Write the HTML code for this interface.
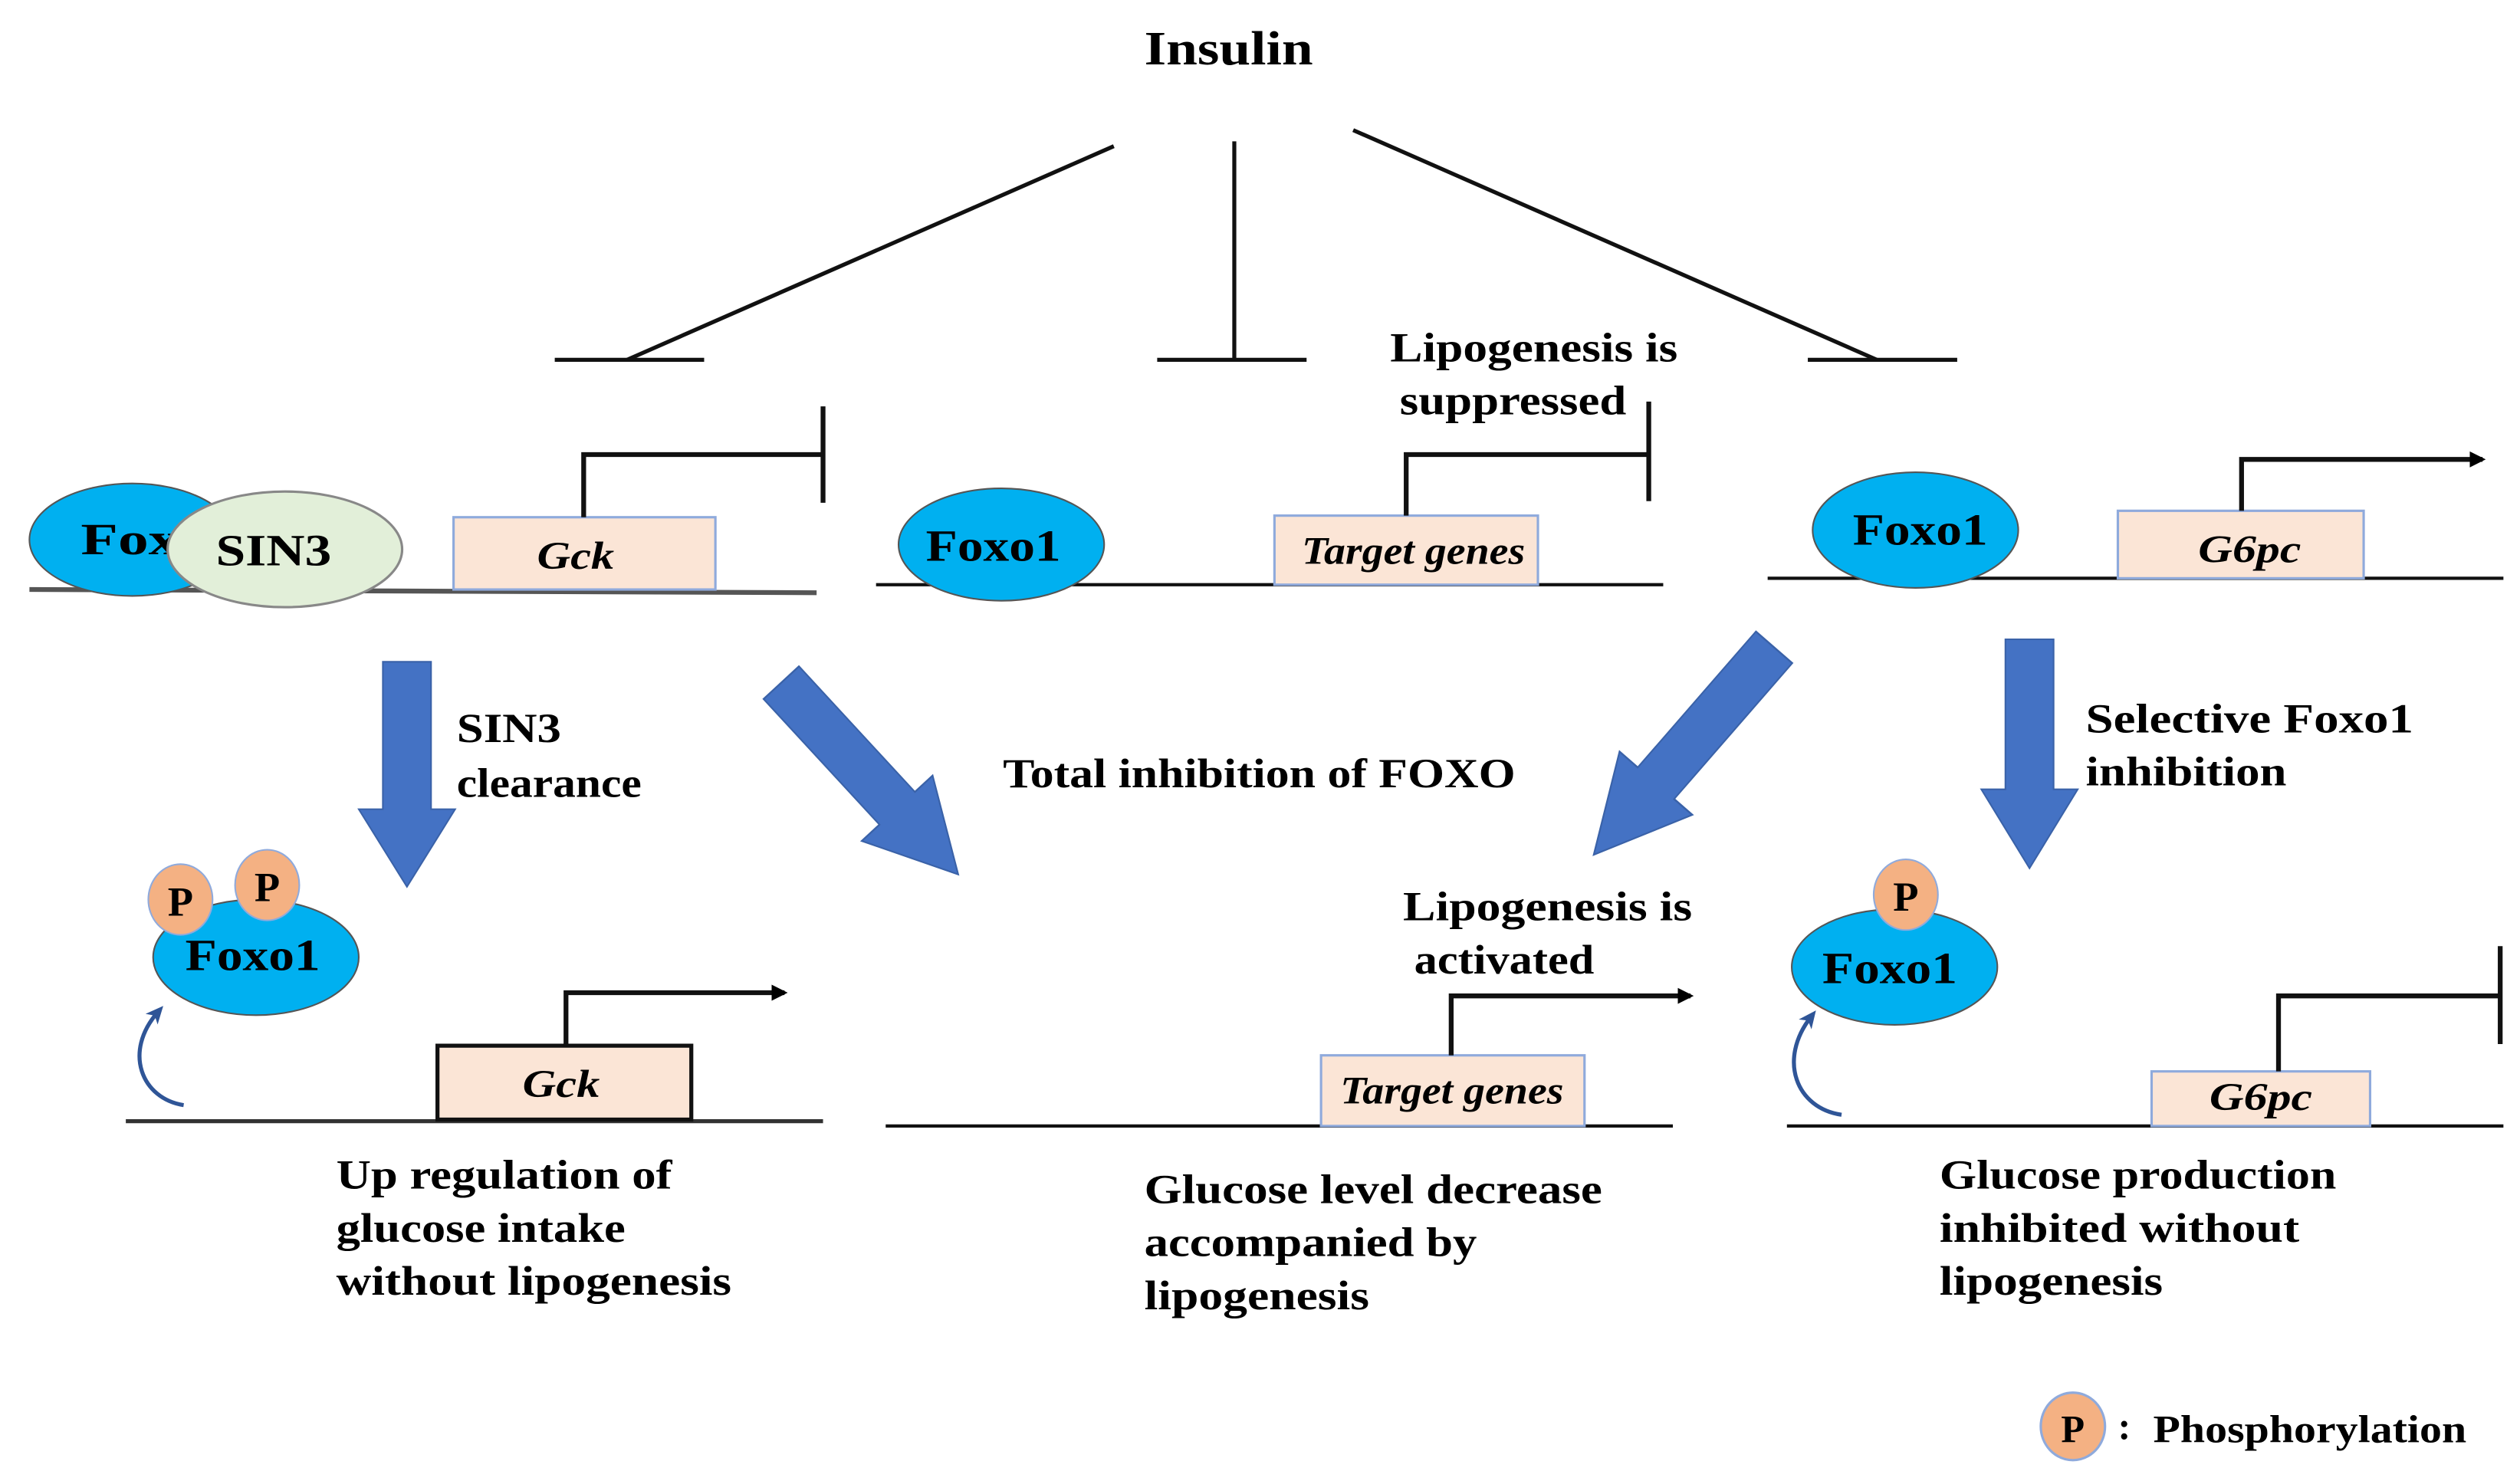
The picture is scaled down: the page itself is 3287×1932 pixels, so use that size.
<!DOCTYPE html>
<html><head><meta charset="utf-8"><style>html,body{margin:0;padding:0;background:#fff}svg{display:block}</style></head>
<body>
<svg width="3287" height="1932" viewBox="0 0 1568 922" xmlns="http://www.w3.org/2000/svg" font-family="Liberation Serif, serif" font-weight="bold">
<defs>
<marker id="ah" markerWidth="10" markerHeight="10" refX="8" refY="5" orient="auto" markerUnits="userSpaceOnUse"><path d="M0,0 L10,5 L0,10 Z" fill="#000"/></marker>
<marker id="bh" markerWidth="12" markerHeight="12" refX="6" refY="6" orient="auto" markerUnits="userSpaceOnUse"><path d="M0,1 L11,6 L0,11 L3,6 Z" fill="#2f5597"/></marker>
<path id="barrow" d="M0,-15 L95,-15 L95,-30 L145,0 L95,30 L95,15 L0,15 Z" fill="#4472c4" stroke="#3a62a8" stroke-width="1"/>
</defs>
<text x="712" y="40" font-size="30" textLength="105" lengthAdjust="spacingAndGlyphs">Insulin</text>
<g stroke="#111" stroke-width="2.5" fill="none">
<line x1="693" y1="91" x2="390" y2="224"/><line x1="345" y1="224" x2="438" y2="224"/>
<line x1="768" y1="88" x2="768" y2="224"/><line x1="720" y1="224" x2="813" y2="224"/>
<line x1="842" y1="81" x2="1168" y2="224"/><line x1="1125" y1="224" x2="1218" y2="224"/>
</g>
<!-- left top -->
<line x1="18" y1="367" x2="508" y2="369" stroke="#555" stroke-width="3"/>
<rect x="282" y="322" width="163" height="45" fill="#fbe5d6" stroke="#8faadc" stroke-width="1.5"/>
<text x="334" y="354" font-size="24" font-style="italic" textLength="48" lengthAdjust="spacingAndGlyphs">Gck</text>
<ellipse cx="82" cy="336" rx="64" ry="35" fill="#00b0f0" stroke="#555" stroke-width="1"/>
<text x="50" y="345" font-size="28" textLength="80" lengthAdjust="spacingAndGlyphs">Foxo</text>
<ellipse cx="177" cy="342" rx="73" ry="36" fill="#e2efd9" stroke="#888" stroke-width="1.5"/>
<text x="134" y="352" font-size="28" textLength="72" lengthAdjust="spacingAndGlyphs">SIN3</text>
<polyline points="363,322 363,283 512,283" fill="none" stroke="#111" stroke-width="3"/>
<line x1="512" y1="253" x2="512" y2="313" stroke="#111" stroke-width="3"/>
<!-- middle top -->
<line x1="545" y1="364" x2="1035" y2="364" stroke="#111" stroke-width="2"/>
<ellipse cx="623" cy="339" rx="64" ry="35" fill="#00b0f0" stroke="#555" stroke-width="1"/>
<text x="576" y="349" font-size="28" textLength="84" lengthAdjust="spacingAndGlyphs">Foxo1</text>
<rect x="793" y="321" width="164" height="43" fill="#fbe5d6" stroke="#8faadc" stroke-width="1.5"/>
<text x="810" y="351" font-size="24" font-style="italic" textLength="139" lengthAdjust="spacingAndGlyphs">Target genes</text>
<polyline points="875,321 875,283 1026,283" fill="none" stroke="#111" stroke-width="3"/>
<line x1="1026" y1="250" x2="1026" y2="312" stroke="#111" stroke-width="3"/>
<text x="865" y="225" font-size="26" textLength="179" lengthAdjust="spacingAndGlyphs">Lipogenesis  is</text>
<text x="871" y="258" font-size="26" textLength="141" lengthAdjust="spacingAndGlyphs">suppressed</text>
<!-- right top -->
<line x1="1100" y1="360" x2="1558" y2="360" stroke="#111" stroke-width="2"/>
<ellipse cx="1192" cy="330" rx="64" ry="36" fill="#00b0f0" stroke="#555" stroke-width="1"/>
<text x="1153" y="339" font-size="28" textLength="84" lengthAdjust="spacingAndGlyphs">Foxo1</text>
<rect x="1318" y="318" width="153" height="42" fill="#fbe5d6" stroke="#8faadc" stroke-width="1.5"/>
<text x="1368" y="350" font-size="24" font-style="italic" textLength="64" lengthAdjust="spacingAndGlyphs">G6pc</text>
<polyline points="1395,318 1395,286 1545,286" fill="none" stroke="#111" stroke-width="3" marker-end="url(#ah)"/>
<!-- blue arrows -->
<g transform="translate(253,412) rotate(90) scale(0.966,1)"><use href="#barrow"/></g>
<g transform="translate(1263,398) rotate(90) scale(0.983,1)"><use href="#barrow"/></g>
<g transform="translate(486,425) rotate(47.3) scale(1.12,1)"><use href="#barrow"/></g>
<g transform="translate(1104,403) rotate(131) scale(1.18,1)"><use href="#barrow"/></g>
<text x="284" y="462" font-size="26" textLength="65" lengthAdjust="spacingAndGlyphs">SIN3</text>
<text x="284" y="496" font-size="26" textLength="115" lengthAdjust="spacingAndGlyphs">clearance</text>
<text x="624" y="490" font-size="26" textLength="319" lengthAdjust="spacingAndGlyphs">Total inhibition  of FOXO</text>
<text x="1298" y="456" font-size="26" textLength="204" lengthAdjust="spacingAndGlyphs">Selective  Foxo1</text>
<text x="1298" y="489" font-size="26" textLength="125" lengthAdjust="spacingAndGlyphs">inhibition</text>
<!-- left bottom -->
<line x1="78" y1="698" x2="512" y2="698" stroke="#333" stroke-width="2.5"/>
<ellipse cx="159" cy="596" rx="64" ry="36" fill="#00b0f0" stroke="#555" stroke-width="1"/>
<text x="115" y="604" font-size="28" textLength="84" lengthAdjust="spacingAndGlyphs">Foxo1</text>
<ellipse cx="112" cy="560" rx="20" ry="22" fill="#f4b183" stroke="#8faadc" stroke-width="1"/>
<text x="112" y="570" font-size="26" text-anchor="middle">P</text>
<ellipse cx="166" cy="551" rx="20" ry="22" fill="#f4b183" stroke="#8faadc" stroke-width="1"/>
<text x="166" y="561" font-size="26" text-anchor="middle">P</text>
<path d="M114,688 C88,684 76,655 98,630" fill="none" stroke="#2f5597" stroke-width="2.5" marker-end="url(#bh)"/>
<rect x="272" y="651" width="158" height="46" fill="#fbe5d6" stroke="#111" stroke-width="2.5"/>
<text x="325" y="683" font-size="24" font-style="italic" textLength="48" lengthAdjust="spacingAndGlyphs">Gck</text>
<polyline points="352,651 352,618 488,618" fill="none" stroke="#111" stroke-width="3" marker-end="url(#ah)"/>
<text x="209" y="740" font-size="26" textLength="209" lengthAdjust="spacingAndGlyphs">Up regulation  of</text>
<text x="209" y="773" font-size="26" textLength="180" lengthAdjust="spacingAndGlyphs">glucose intake</text>
<text x="209" y="806" font-size="26" textLength="246" lengthAdjust="spacingAndGlyphs">without lipogenesis</text>
<!-- middle bottom -->
<line x1="551" y1="701" x2="1041" y2="701" stroke="#111" stroke-width="2"/>
<rect x="822" y="657" width="164" height="44" fill="#fbe5d6" stroke="#8faadc" stroke-width="1.5"/>
<text x="834" y="687" font-size="24" font-style="italic" textLength="139" lengthAdjust="spacingAndGlyphs">Target genes</text>
<polyline points="903,657 903,620 1052,620" fill="none" stroke="#111" stroke-width="3" marker-end="url(#ah)"/>
<text x="873" y="573" font-size="26" textLength="180" lengthAdjust="spacingAndGlyphs">Lipogenesis  is</text>
<text x="880" y="606" font-size="26" textLength="112" lengthAdjust="spacingAndGlyphs">activated</text>
<text x="712" y="749" font-size="26" textLength="285" lengthAdjust="spacingAndGlyphs">Glucose level  decrease</text>
<text x="712" y="782" font-size="26" textLength="207" lengthAdjust="spacingAndGlyphs">accompanied by</text>
<text x="712" y="815" font-size="26" textLength="140" lengthAdjust="spacingAndGlyphs">lipogenesis</text>
<!-- right bottom -->
<line x1="1112" y1="701" x2="1558" y2="701" stroke="#111" stroke-width="2"/>
<ellipse cx="1179" cy="602" rx="64" ry="36" fill="#00b0f0" stroke="#555" stroke-width="1"/>
<text x="1134" y="612" font-size="28" textLength="84" lengthAdjust="spacingAndGlyphs">Foxo1</text>
<ellipse cx="1186" cy="557" rx="20" ry="22" fill="#f4b183" stroke="#8faadc" stroke-width="1"/>
<text x="1186" y="567" font-size="26" text-anchor="middle">P</text>
<path d="M1146,694 C1118,690 1106,660 1127,633" fill="none" stroke="#2f5597" stroke-width="2.5" marker-end="url(#bh)"/>
<rect x="1339" y="667" width="136" height="34" fill="#fbe5d6" stroke="#8faadc" stroke-width="1.5"/>
<text x="1375" y="691" font-size="24" font-style="italic" textLength="64" lengthAdjust="spacingAndGlyphs">G6pc</text>
<polyline points="1418,667 1418,620 1556,620" fill="none" stroke="#111" stroke-width="3"/>
<line x1="1556" y1="589" x2="1556" y2="650" stroke="#111" stroke-width="3"/>
<text x="1207" y="740" font-size="26" textLength="247" lengthAdjust="spacingAndGlyphs">Glucose production</text>
<text x="1207" y="773" font-size="26" textLength="224" lengthAdjust="spacingAndGlyphs">inhibited  without</text>
<text x="1207" y="806" font-size="26" textLength="139" lengthAdjust="spacingAndGlyphs">lipogenesis</text>
<!-- legend -->
<ellipse cx="1290" cy="888" rx="20" ry="21" fill="#f4b183" stroke="#8faadc" stroke-width="1.5"/>
<text x="1290" y="898" font-size="24" text-anchor="middle">P</text>
<text x="1318" y="896" font-size="24">:</text>
<text x="1340" y="898" font-size="24" textLength="195" lengthAdjust="spacingAndGlyphs">Phosphorylation</text>
</svg>
</body></html>
